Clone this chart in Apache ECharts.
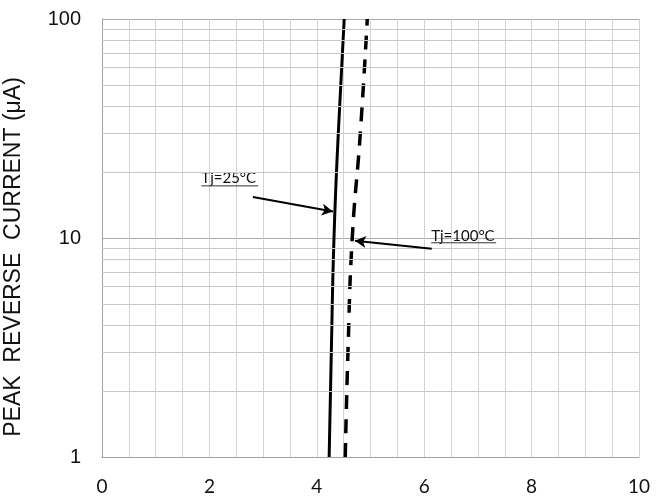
<!DOCTYPE html>
<html>
<head>
<meta charset="UTF-8">
<title>Peak reverse current</title>
<script src="https://cdn.jsdelivr.net/npm/echarts@6/dist/echarts.min.js"></script>
<style>
  html, body { margin: 0; padding: 0; background: #fff; }
  #main { width: 668px; height: 498px; }
</style>
</head>
<body>
<div id="main"></div>
<script>
// voltage (V) vs current (uA)
var tj25 = [[4.23, 1], [4.27, 3], [4.32, 10], [4.40, 30], [4.51, 100]];
var tj100 = [[4.53, 1], [4.58, 3], [4.66, 10], [4.81, 30], [4.94, 100]];
var xTicks = [0, 2, 4, 6, 8, 10];
var yTicks = [1, 10, 100];
var yMinor = [2, 3, 4, 5, 6, 7, 8, 9, 20, 30, 40, 50, 60, 70, 80, 90];

var chart = echarts.init(document.getElementById('main'));

var option = {
  animation: false,
  grid: { left: 102, right: 29, top: 19, bottom: 41 },
  xAxis: {
    type: 'value',
    min: xTicks[0],
    max: xTicks[xTicks.length - 1],
    interval: 2,
    axisLine: { show: true, lineStyle: { color: '#a0a0a0', width: 1 } },
    axisTick: { show: false },
    axisLabel: { margin: 20, color: '#111', fontSize: 19, fontFamily: 'Lato' },
    splitLine: { show: true, lineStyle: { color: '#d2d2d2', width: 1 } },
    minorTick: { show: false, splitNumber: 4 },
    minorSplitLine: { show: true, lineStyle: { color: '#d2d2d2', width: 1 } }
  },
  yAxis: {
    type: 'log',
    logBase: 10,
    min: yTicks[0],
    max: yTicks[yTicks.length - 1],
    axisLine: { show: true, lineStyle: { color: '#a0a0a0', width: 1 } },
    axisTick: { show: false },
    axisLabel: { margin: 21, color: '#111', fontSize: 20, fontFamily: 'Liberation Sans' },
    splitLine: { show: true, lineStyle: { color: '#a8a8a8', width: 1 } }
  },
  series: [
    {
      // minor log grid lines
      type: 'line',
      data: [],
      silent: true,
      markLine: {
        silent: true,
        symbol: ['none', 'none'],
        label: { show: false },
        lineStyle: { color: '#c8c8c8', type: 'solid', width: 1 },
        data: yMinor.map(function (v) { return { yAxis: v }; })
      }
    },
    {
      name: 'Tj=25°C',
      type: 'line',
      data: tj25,
      showSymbol: false,
      smooth: true,
      lineStyle: { color: '#000', width: 3 },
      markLine: {
        silent: true,
        symbol: ['none', 'arrow'],
        symbolSize: [9, 11],
        label: { show: false },
        lineStyle: { color: '#000', type: 'solid', width: 2 },
        data: [[{ coord: [2.81, 15.4] }, { coord: [4.30, 13.2] }]]
      }
    },
    {
      name: 'Tj=100°C',
      type: 'line',
      data: tj100,
      showSymbol: false,
      smooth: true,
      lineStyle: { color: '#000', width: 3.5, type: [14, 10] },
      markLine: {
        silent: true,
        symbol: ['none', 'arrow'],
        symbolSize: [9, 11],
        label: { show: false },
        lineStyle: { color: '#000', type: 'solid', width: 2 },
        data: [[{ coord: [6.14, 8.93] }, { coord: [4.71, 9.71] }]]
      }
    }
  ]
};
chart.setOption(option);

// annotations placed from data coordinates
var notes = [
  { text: 'Tj=25°C', at: [1.85, 18.8], line: [[1.85, 17.3], [2.91, 17.3]] },
  { text: 'Tj=100°C', at: [6.13, 10.2], line: [[6.13, 9.51], [7.34, 9.51]] }
];
var graphics = [];
notes.forEach(function (n) {
  var p = chart.convertToPixel({ gridIndex: 0 }, n.at);
  var a = chart.convertToPixel({ gridIndex: 0 }, n.line[0]);
  var b = chart.convertToPixel({ gridIndex: 0 }, n.line[1]);
  graphics.push({
    type: 'text', x: p[0], y: p[1],
    style: { text: n.text, fill: '#111', font: '15px Lato', textAlign: 'left', textVerticalAlign: 'middle' }
  });
  graphics.push({
    type: 'line', shape: { x1: a[0], y1: a[1], x2: b[0], y2: b[1] },
    style: { stroke: '#333', lineWidth: 1 }
  });
});
graphics.push({
  type: 'text', x: 14, y: 257, rotation: Math.PI / 2,
  style: {
    text: 'PEAK  REVERSE  CURRENT (μA)', fill: '#111',
    font: '23px "Liberation Sans"', textAlign: 'center', textVerticalAlign: 'middle'
  }
});
chart.setOption({ graphic: graphics });
</script>
</body>
</html>
